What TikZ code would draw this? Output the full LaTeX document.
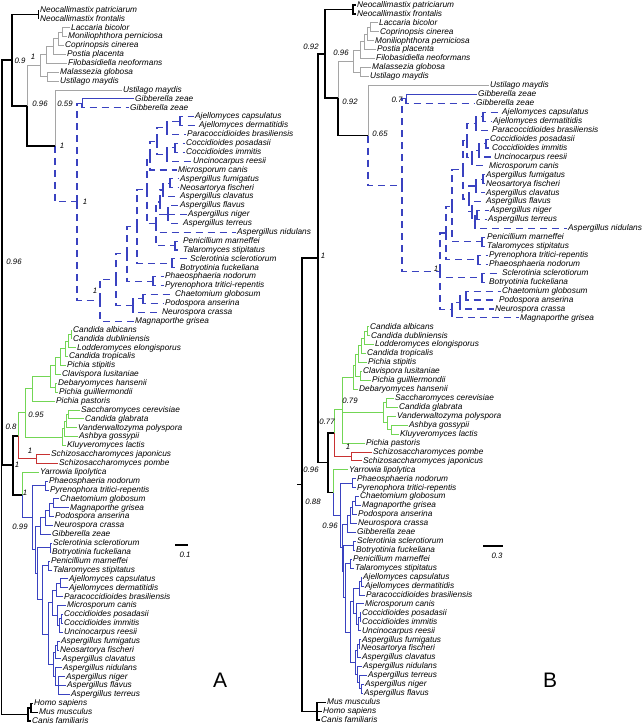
\documentclass[tikz,border=0pt]{standalone}
\usepackage{fontspec}
\newfontfamily\lff{Liberation Sans}
\definecolor{bluec}{RGB}{58,66,192}
\definecolor{grayc}{RGB}{165,165,165}
\definecolor{greenc}{RGB}{115,214,85}
\definecolor{redc}{RGB}{200,50,50}
\tikzset{
  lf/.style={anchor=west,inner sep=1.5pt,font=\lff\itshape\fontsize{8.3}{10}\selectfont,text height=1.05ex,text depth=0pt},
  bs/.style={anchor=center,inner sep=0pt,font=\lff\itshape\fontsize{7.8}{9}\selectfont},
  bk/.style={draw=black,line width=1.5pt},
  gy/.style={draw=grayc,line width=1pt},
  bl/.style={draw=bluec,line width=1pt},
  bd/.style={draw=bluec,line width=1.1pt,dash pattern=on 7pt off 5pt},
  gr/.style={draw=greenc,line width=1pt},
  rd/.style={draw=redc,line width=1pt},
}
\newcommand{\LA}[3]{\coordinate (a#1) at ({#2-1.5},{10+(#1-1)*8.89}); \node[lf] (a#1t) at (a#1) {#3};}
\newcommand{\LB}[3]{\coordinate (b#1) at ({#2-1.5},{5+(#1-1)*8.94}); \node[lf] (b#1t) at (b#1) {#3};}
\newcommand{\IA}[3]{\coordinate (#1) at (#2,{10+(#3-1)*8.89});}
\newcommand{\IB}[3]{\coordinate (#1) at (#2,{5+(#3-1)*8.94});}
\newcommand{\E}[3]{\draw[#1] (#2) |- (#3);}
\begin{document}
\begin{tikzpicture}[x=1pt,y=-1pt]
\fill[white] (0,0) rectangle (643,727);
\path[use as bounding box] (0,0) rectangle (643,727);
% ================= TREE A: leaves =================
\LA{1}{40}{Neocallimastix patriciarum}
\LA{2}{40}{Neocallimastix frontalis}
\LA{3}{71}{Laccaria bicolor}
\LA{4}{68}{Moniliophthora perniciosa}
\LA{5}{65}{Coprinopsis cinerea}
\LA{6}{67}{Postia placenta}
\LA{7}{68}{Filobasidiella neoformans}
\LA{8}{60}{Malassezia globosa}
\LA{9}{60}{Ustilago maydis}
\LA{10}{123}{Ustilago maydis}
\LA{11}{135}{Gibberella zeae}
\LA{12}{130}{Gibberella zeae}
\LA{13}{195}{Ajellomyces capsulatus}
\LA{14}{199}{Ajellomyces dermatitidis}
\LA{15}{187}{Paracoccidioides brasiliensis}
\LA{16}{186}{Coccidioides posadasii}
\LA{17}{186}{Coccidioides immitis}
\LA{18}{193}{Uncinocarpus reesii}
\LA{19}{178}{Microsporum canis}
\LA{20}{180}{Aspergillus fumigatus}
\LA{21}{180}{Neosartorya fischeri}
\LA{22}{180}{Aspergillus clavatus}
\LA{23}{180}{Aspergillus flavus}
\LA{24}{188}{Aspergillus niger}
\LA{25}{183}{Aspergillus terreus}
\LA{26}{237}{Aspergillus nidulans}
\LA{27}{183}{Penicillium marneffei}
\LA{28}{183}{Talaromyces stipitatus}
\LA{29}{190}{Sclerotinia sclerotiorum}
\LA{30}{180}{Botryotinia fuckeliana}
\LA{31}{165}{Phaeosphaeria nodorum}
\LA{32}{165}{Pyrenophora tritici-repentis}
\LA{33}{175}{Chaetomium globosum}
\LA{34}{165}{Podospora anserina}
\LA{35}{162}{Neurospora crassa}
\LA{36}{135}{Magnaporthe grisea}
\LA{37}{73}{Candida albicans}
\LA{38}{73}{Candida dubliniensis}
\LA{39}{77}{Lodderomyces elongisporus}
\LA{40}{69}{Candida tropicalis}
\LA{41}{67}{Pichia stipitis}
\LA{42}{62}{Clavispora lusitaniae}
\LA{43}{58}{Debaryomyces hansenii}
\LA{44}{59}{Pichia guilliermondii}
\LA{45}{56}{Pichia pastoris}
\LA{46}{81}{Saccharomyces cerevisiae}
\LA{47}{85}{Candida glabrata}
\LA{48}{78}{Vanderwaltozyma polyspora}
\LA{49}{79}{Ashbya gossypii}
\LA{50}{67}{Kluyveromyces lactis}
\LA{51}{51}{Schizosaccharomyces japonicus}
\LA{52}{59}{Schizosaccharomyces pombe}
\LA{53}{40}{Yarrowia lipolytica}
\LA{54}{49}{Phaeosphaeria nodorum}
\LA{55}{50}{Pyrenophora tritici-repentis}
\LA{56}{60}{Chaetomium globosum}
\LA{57}{70}{Magnaporthe grisea}
\LA{58}{55}{Podospora anserina}
\LA{59}{54}{Neurospora crassa}
\LA{60}{52}{Gibberella zeae}
\LA{61}{53}{Sclerotinia sclerotiorum}
\LA{62}{52}{Botryotinia fuckeliana}
\LA{63}{51}{Penicillium marneffei}
\LA{64}{53}{Talaromyces stipitatus}
\LA{65}{69}{Ajellomyces capsulatus}
\LA{66}{69}{Ajellomyces dermatitidis}
\LA{67}{64}{Paracoccidioides brasiliensis}
\LA{68}{67}{Microsporum canis}
\LA{69}{64}{Coccidioides posadasii}
\LA{70}{64}{Coccidioides immitis}
\LA{71}{64}{Uncinocarpus reesii}
\LA{72}{61}{Aspergillus fumigatus}
\LA{73}{60}{Neosartorya fischeri}
\LA{74}{62}{Aspergillus clavatus}
\LA{75}{63}{Aspergillus nidulans}
\LA{76}{66}{Aspergillus niger}
\LA{77}{67}{Aspergillus flavus}
\LA{78}{71}{Aspergillus terreus}
\LA{79}{34}{Homo sapiens}
\LA{80}{39}{Mus musculus}
\LA{81}{32}{Canis familiaris}
% ================= TREE A: internal =================
\IA{aNeo}{38.5}{1.5}
\IA{aLC4}{62}{3.5}
\IA{aLC3}{58}{4.25}
\IA{aLC2}{53}{5.125}
\IA{aAgar}{46}{6.06}
\IA{aUM}{47}{8.5}
\IA{aBas}{40}{7.28}
\IA{aGib}{82}{11.5}
\IA{aAj}{180}{13.5}
\IA{aAjP}{167}{14.25}
\IA{aCC}{175}{16.5}
\IA{aCCU}{167}{17.25}
\IA{aOnyB}{157}{15.75}
\IA{aOny}{150}{17.375}
\IA{aFN}{170}{20.5}
\IA{aFNC}{163}{21.25}
\IA{aFNT}{168}{24}
\IA{aAsp}{160}{22.6}
\IA{aPT}{175}{27.5}
\IA{aEur}{156}{25.06}
\IA{aDf}{147}{21.2}
\IA{aLeo}{172}{29.5}
\IA{aDe}{137}{25.35}
\IA{aPleo}{153}{31.5}
\IA{aDd}{127}{28.4}
\IA{aCP}{143}{33.5}
\IA{aSord}{133}{34.25}
\IA{aDc}{116}{31.3}
\IA{aDb}{100}{33.66}
\IA{aDa}{77}{22.58}
\IA{aAsc}{55}{16.29}
\IA{aF2}{27}{11.78}
\IA{aF1}{12}{6.64}
\IA{aCAD}{71}{37.5}
\IA{aL}{68}{38.25}
\IA{aT}{65}{39.1}
\IA{aS}{60}{40.06}
\IA{aC}{55}{41.03}
\IA{aDG}{55}{43.5}
\IA{aCTGb}{50}{42.27}
\IA{aCTG}{32}{43.6}
\IA{aSC}{68}{46.5}
\IA{aV}{66}{47.25}
\IA{aVb}{64}{48.1}
\IA{aSac}{62}{49.06}
\IA{aG}{25}{46.3}
\IA{aSch}{36}{51.5}
\IA{aQ}{18}{48.9}
\IA{aPl}{45}{54.5}
\IA{aCM}{53}{56.5}
\IA{aCMP}{49}{57.25}
\IA{aCMPN}{45}{58.1}
\IA{aSordB}{40}{59.06}
\IA{aLeoB}{50}{61.5}
\IA{aPTB}{48}{63.5}
\IA{aAjB}{60}{65.5}
\IA{aAjPB}{56}{66.25}
\IA{aCCB}{61}{69.5}
\IA{aCCUB}{59}{70.25}
\IA{aCCUMB}{57}{69.1}
\IA{aOnyC}{52}{67.7}
\IA{aFNB}{57}{72.5}
\IA{aFNCB}{55}{73.25}
\IA{aNFTB}{58}{77}
\IA{aNidB}{55}{76}
\IA{aAspB}{53}{74.6}
\IA{aEurB}{48}{71.2}
\IA{aEurC}{42}{67.3}
\IA{aLeB}{37}{64.4}
\IA{aPzB}{35}{61.7}
\IA{aPz}{32}{58.1}
\IA{aY}{22}{55.55}
\IA{aP}{13}{52.2}
\IA{aR}{2}{29.4}
\IA{aHM}{31}{79.5}
\IA{aAn}{28}{80.25}
\IA{aRoot}{1.5}{54.8}
% ---- edges A ----
\E{gy}{aF2}{aBas}\E{gy}{aBas}{aAgar}\E{gy}{aBas}{aUM}\E{gy}{aAgar}{aLC2}\E{gy}{aAgar}{a7}
\E{gy}{aLC2}{aLC3}\E{gy}{aLC2}{a6}\E{gy}{aLC3}{aLC4}\E{gy}{aLC3}{a5}\E{gy}{aLC4}{a3}\E{gy}{aLC4}{a4}
\E{gy}{aUM}{a8}\E{gy}{aUM}{a9}\E{gy}{aAsc}{a10}
\E{bd}{aAsc}{aDa}\E{bd}{aDa}{aGib}\E{bd}{aDa}{aDb}\E{bl}{aGib}{a11}\E{bd}{aGib}{a12}
\E{bd}{aDb}{aDc}\E{bd}{aDb}{a36}\E{bd}{aDc}{aDd}\E{bd}{aDc}{aSord}\E{bd}{aSord}{aCP}\E{bd}{aSord}{a35}
\E{bd}{aCP}{a33}\E{bd}{aCP}{a34}\E{bd}{aDd}{aDe}\E{bd}{aDd}{aPleo}\E{bd}{aPleo}{a31}\E{bd}{aPleo}{a32}
\E{bd}{aDe}{aDf}\E{bd}{aDe}{aLeo}\E{bd}{aLeo}{a29}\E{bd}{aLeo}{a30}\E{bd}{aDf}{aOny}\E{bd}{aDf}{aEur}
\E{bd}{aOny}{aOnyB}\E{bd}{aOny}{a19}\E{bd}{aOnyB}{aAjP}\E{bd}{aOnyB}{aCCU}\E{bd}{aAjP}{aAj}\E{bd}{aAjP}{a15}
\E{bd}{aAj}{a13}\E{bd}{aAj}{a14}\E{bd}{aCCU}{aCC}\E{bd}{aCCU}{a18}\E{bd}{aCC}{a16}\E{bd}{aCC}{a17}
\E{bd}{aEur}{aAsp}\E{bd}{aEur}{a26}\E{bd}{aEur}{aPT}\E{bd}{aPT}{a27}\E{bd}{aPT}{a28}
\E{bd}{aAsp}{aFNC}\E{bd}{aAsp}{aFNT}\E{bd}{aFNC}{aFN}\E{bd}{aFNC}{a22}\E{bd}{aFN}{a20}\E{bd}{aFN}{a21}
\E{bd}{aFNT}{a23}\E{bd}{aFNT}{a24}\E{bd}{aFNT}{a25}
\E{gr}{aQ}{aG}\E{gr}{aG}{aCTG}\E{gr}{aG}{aSac}\E{gr}{aCTG}{aCTGb}\E{gr}{aCTG}{a45}
\E{gr}{aCTGb}{aC}\E{gr}{aCTGb}{aDG}\E{gr}{aDG}{a43}\E{gr}{aDG}{a44}\E{gr}{aC}{aS}\E{gr}{aC}{a42}
\E{gr}{aS}{aT}\E{gr}{aS}{a41}\E{gr}{aT}{aL}\E{gr}{aT}{a40}\E{gr}{aL}{aCAD}\E{gr}{aL}{a39}
\E{gr}{aCAD}{a37}\E{gr}{aCAD}{a38}
\E{gr}{aSac}{aVb}\E{gr}{aSac}{a50}\E{gr}{aVb}{aV}\E{gr}{aVb}{a49}\E{gr}{aV}{aSC}\E{gr}{aV}{a48}
\E{gr}{aSC}{a46}\E{gr}{aSC}{a47}\E{gr}{aY}{a53}
\E{rd}{aQ}{aSch}\E{rd}{aSch}{a51}\E{rd}{aSch}{a52}
\E{bl}{aY}{aPz}\E{bl}{aPz}{aPl}\E{bl}{aPz}{aPzB}\E{bl}{aPl}{a54}\E{bl}{aPl}{a55}
\E{bl}{aPzB}{aSordB}\E{bl}{aPzB}{aLeB}\E{bl}{aSordB}{aCMPN}\E{bl}{aSordB}{a60}\E{bl}{aCMPN}{aCMP}\E{bl}{aCMPN}{a59}
\E{bl}{aCMP}{aCM}\E{bl}{aCMP}{a58}\E{bl}{aCM}{a56}\E{bl}{aCM}{a57}
\E{bl}{aLeB}{aLeoB}\E{bl}{aLeB}{aEurC}\E{bl}{aLeoB}{a61}\E{bl}{aLeoB}{a62}
\E{bl}{aEurC}{aPTB}\E{bl}{aEurC}{aEurB}\E{bl}{aPTB}{a63}\E{bl}{aPTB}{a64}
\E{bl}{aEurB}{aOnyC}\E{bl}{aEurB}{aAspB}
\E{bl}{aOnyC}{aAjPB}\E{bl}{aOnyC}{aCCUMB}\E{bl}{aAjPB}{aAjB}\E{bl}{aAjPB}{a67}\E{bl}{aAjB}{a65}\E{bl}{aAjB}{a66}
\E{bl}{aCCUMB}{a68}\E{bl}{aCCUMB}{aCCUB}\E{bl}{aCCUB}{aCCB}\E{bl}{aCCUB}{a71}\E{bl}{aCCB}{a69}\E{bl}{aCCB}{a70}
\E{bl}{aAspB}{aFNCB}\E{bl}{aAspB}{aNidB}\E{bl}{aFNCB}{aFNB}\E{bl}{aFNCB}{a74}\E{bl}{aFNB}{a72}\E{bl}{aFNB}{a73}
\E{bl}{aNidB}{a75}\E{bl}{aNidB}{aNFTB}\E{bl}{aNFTB}{a76}\E{bl}{aNFTB}{a77}\E{bl}{aNFTB}{a78}
\E{bk}{aRoot}{aR}\E{bk}{aRoot}{aAn}\E{bk}{aR}{aF1}\E{bk}{aR}{aP}\E{bk}{aF1}{aNeo}\E{bk}{aF1}{aF2}
\E{bk}{aNeo}{a1}\E{bk}{aNeo}{a2}\E{bk}{aF2}{aAsc}\E{bk}{aP}{aQ}\E{bk}{aP}{aY}
\E{bk}{aAn}{aHM}\E{bk}{aAn}{a81}\E{bk}{aHM}{a79}\E{bk}{aHM}{a80}
% labels A
\node[bs] (la1) at (20,61) {0.9};
\node[bs] (la2) at (33,57) {1};
\node[bs] (la3) at (40,104) {0.96};
\node[bs] (la4) at (65,104) {0.59};
\node[bs] (la5) at (62,146) {1};
\node[bs] (la6) at (85,202) {1};
\node[bs] (la7) at (14,262) {0.96};
\node[bs] (la8) at (95,291) {1};
\node[bs] (la9) at (36,415) {0.95};
\node[bs] (la10) at (11,427) {0.8};
\node[bs] (la11) at (30,451) {1};
\node[bs] (la12) at (17,465) {1};
\node[bs] (la13) at (25,493) {1};
\node[bs] (la14) at (20,527) {0.99};
\coordinate (sa1) at (175,545); \coordinate (sa2) at (188,545);
\draw[black,line width=1.3pt] (sa1) -- (sa2);
\node[bs] (sat) at (185,555) {0.1};
\node[font=\lff\fontsize{21}{24}\selectfont] (pA) at (220,680) {A};
% ================= TREE B: leaves =================
\LB{1}{357}{Neocallimastix patriciarum}
\LB{2}{357}{Neocallimastix frontalis}
\LB{3}{379}{Laccaria bicolor}
\LB{4}{380}{Coprinopsis cinerea}
\LB{5}{375}{Moniliophthora perniciosa}
\LB{6}{377}{Postia placenta}
\LB{7}{376}{Filobasidiella neoformans}
\LB{8}{372}{Malassezia globosa}
\LB{9}{370}{Ustilago maydis}
\LB{10}{490}{Ustilago maydis}
\LB{11}{478}{Gibberella zeae}
\LB{12}{476}{Gibberella zeae}
\LB{13}{502}{Ajellomyces capsulatus}
\LB{14}{493}{Ajellomyces dermatitidis}
\LB{15}{492}{Paracoccidioides brasiliensis}
\LB{16}{490}{Coccidioides posadasii}
\LB{17}{492}{Coccidioides immitis}
\LB{18}{494}{Uncinocarpus reesii}
\LB{19}{489}{Microsporum canis}
\LB{20}{486}{Aspergillus fumigatus}
\LB{21}{486}{Neosartorya fischeri}
\LB{22}{486}{Aspergillus clavatus}
\LB{23}{486}{Aspergillus flavus}
\LB{24}{490}{Aspergillus niger}
\LB{25}{488}{Aspergillus terreus}
\LB{26}{568}{Aspergillus nidulans}
\LB{27}{487}{Penicillium marneffei}
\LB{28}{487}{Talaromyces stipitatus}
\LB{29}{489}{Pyrenophora tritici-repentis}
\LB{30}{489}{Phaeosphaeria nodorum}
\LB{31}{502}{Sclerotinia sclerotiorum}
\LB{32}{489}{Botryotinia fuckeliana}
\LB{33}{502}{Chaetomium globosum}
\LB{34}{499}{Podospora anserina}
\LB{35}{495}{Neurospora crassa}
\LB{36}{520}{Magnaporthe grisea}
\LB{37}{370}{Candida albicans}
\LB{38}{371}{Candida dubliniensis}
\LB{39}{375}{Lodderomyces elongisporus}
\LB{40}{367}{Candida tropicalis}
\LB{41}{368}{Pichia stipitis}
\LB{42}{363}{Clavispora lusitaniae}
\LB{43}{372}{Pichia guilliermondii}
\LB{44}{359}{Debaryomyces hansenii}
\LB{45}{395}{Saccharomyces cerevisiae}
\LB{46}{399}{Candida glabrata}
\LB{47}{397}{Vanderwaltozyma polyspora}
\LB{48}{409}{Ashbya gossypii}
\LB{49}{400}{Kluyveromyces lactis}
\LB{50}{366}{Pichia pastoris}
\LB{51}{373}{Schizosaccharomyces pombe}
\LB{52}{363}{Schizosaccharomyces japonicus}
\LB{53}{349}{Yarrowia lipolytica}
\LB{54}{357}{Phaeosphaeria nodorum}
\LB{55}{357}{Pyrenophora tritici-repentis}
\LB{56}{360}{Chaetomium globosum}
\LB{57}{362}{Magnaporthe grisea}
\LB{58}{358}{Podospora anserina}
\LB{59}{358}{Neurospora crassa}
\LB{60}{357}{Gibberella zeae}
\LB{61}{357}{Sclerotinia sclerotiorum}
\LB{62}{356}{Botryotinia fuckeliana}
\LB{63}{353}{Penicillium marneffei}
\LB{64}{355}{Talaromyces stipitatus}
\LB{65}{363}{Ajellomyces capsulatus}
\LB{66}{365}{Ajellomyces dermatitidis}
\LB{67}{366}{Paracoccidioides brasiliensis}
\LB{68}{365}{Microsporum canis}
\LB{69}{362}{Coccidioides posadasii}
\LB{70}{362}{Coccidioides immitis}
\LB{71}{362}{Uncinocarpus reesii}
\LB{72}{362}{Aspergillus fumigatus}
\LB{73}{361}{Neosartorya fischeri}
\LB{74}{362}{Aspergillus clavatus}
\LB{75}{363}{Aspergillus nidulans}
\LB{76}{368}{Aspergillus terreus}
\LB{77}{365}{Aspergillus niger}
\LB{78}{364}{Aspergillus flavus}
\LB{79}{327}{Mus musculus}
\LB{80}{323}{Homo sapiens}
\LB{81}{321}{Canis familiaris}
% ================= TREE B: internal =================
\IB{bNeo}{353}{1.5}
\IB{bLC}{370}{3.5}
\IB{bLCM}{367}{4.25}
\IB{bLCMP}{364}{5.125}
\IB{bAg}{360}{6.06}
\IB{bUM}{360}{8.5}
\IB{bBas}{353}{7.28}
\IB{bGib}{406}{11.5}
\IB{bAj}{483}{13.5}
\IB{bAjP}{476}{14.25}
\IB{bCC}{486}{16.5}
\IB{bCCU}{479}{17.25}
\IB{bCCUM}{472}{18.1}
\IB{bOny}{467}{16.2}
\IB{bFN}{483}{20.5}
\IB{bFNC}{476}{21.25}
\IB{bNT}{477}{24.5}
\IB{bNid}{475}{25.25}
\IB{bFLNT}{472}{24.1}
\IB{bAspA}{469}{22.7}
\IB{bAO}{463}{19.45}
\IB{bPT}{482}{27.5}
\IB{bEur}{452}{23.5}
\IB{bPleo}{478}{29.5}
\IB{bUp}{446}{26.5}
\IB{bLeo}{482}{31.5}
\IB{bCP}{466}{33.5}
\IB{bCPN}{460}{34.25}
\IB{bSord}{452}{35.1}
\IB{bDb}{440}{30.8}
\IB{bDa}{402}{21.15}
\IB{bAsc}{368}{15.6}
\IB{bF2}{338}{11.4}
\IB{bF1}{325}{6.46}
\IB{bCAD}{367}{37.5}
\IB{bCADL}{364}{38.25}
\IB{bCT}{361}{39.1}
\IB{bCTS}{358}{40.06}
\IB{bCL}{360}{42.5}
\IB{bCTGb}{355}{41.3}
\IB{bCTG}{353}{42.65}
\IB{bSCG}{386}{45.5}
\IB{bAK}{391}{48.5}
\IB{bVAK}{387}{47.75}
\IB{bSac}{383}{46.6}
\IB{bG}{342}{46.3}
\IB{bSch}{351}{51.5}
\IB{bQ}{334}{48.9}
\IB{bPl}{352}{54.5}
\IB{bCM}{355}{56.5}
\IB{bCMP}{352}{57.25}
\IB{bCMPN}{350}{58.1}
\IB{bSordB}{347}{59.06}
\IB{bLeoB}{353}{61.5}
\IB{bPTB}{350}{63.5}
\IB{bAjB}{361}{65.5}
\IB{bAjPB}{359}{66.25}
\IB{bCCB}{360}{69.5}
\IB{bCCUB}{358}{70.25}
\IB{bCCUMB}{356}{69.1}
\IB{bOnyC}{353}{67.7}
\IB{bFNB}{359}{72.5}
\IB{bFNCB}{357}{73.25}
\IB{bNFB}{361}{77.5}
\IB{bTNF}{359}{76.75}
\IB{bNTNF}{357}{75.9}
\IB{bAspB}{355}{74.6}
\IB{bEurB}{350}{71.2}
\IB{bEurC}{345}{67.3}
\IB{bLeB}{343}{64.4}
\IB{bPzB}{342}{61.7}
\IB{bPz}{340}{58.1}
\IB{bY}{333}{55.55}
\IB{bP}{328}{52.2}
\IB{bR}{318}{29.3}
\IB{bAn}{317}{80}
\IB{bRoot}{302}{54.65}
\IB{bStem}{297}{54.65}
% ---- edges B ----
\E{gy}{bF2}{bBas}\E{gy}{bBas}{bAg}\E{gy}{bBas}{bUM}\E{gy}{bAg}{bLCMP}\E{gy}{bAg}{b7}
\E{gy}{bLCMP}{bLCM}\E{gy}{bLCMP}{b6}\E{gy}{bLCM}{bLC}\E{gy}{bLCM}{b5}\E{gy}{bLC}{b3}\E{gy}{bLC}{b4}
\E{gy}{bUM}{b8}\E{gy}{bUM}{b9}\E{gy}{bAsc}{b10}
\E{bd}{bAsc}{bDa}\E{bd}{bDa}{bGib}\E{bd}{bDa}{bDb}\E{bl}{bGib}{b11}\E{bd}{bGib}{b12}
\E{bd}{bDb}{bUp}\E{bd}{bDb}{bLeo}\E{bd}{bDb}{bSord}
\E{bd}{bUp}{bEur}\E{bd}{bUp}{bPleo}\E{bd}{bPleo}{b29}\E{bd}{bPleo}{b30}
\E{bd}{bEur}{bAO}\E{bd}{bEur}{bPT}\E{bd}{bPT}{b27}\E{bd}{bPT}{b28}
\E{bd}{bAO}{bOny}\E{bd}{bAO}{bAspA}
\E{bd}{bOny}{bAjP}\E{bd}{bOny}{bCCUM}\E{bd}{bAjP}{bAj}\E{bd}{bAjP}{b15}\E{bd}{bAj}{b13}\E{bd}{bAj}{b14}
\E{bd}{bCCUM}{bCCU}\E{bd}{bCCUM}{b19}\E{bd}{bCCU}{bCC}\E{bd}{bCCU}{b18}\E{bd}{bCC}{b16}\E{bd}{bCC}{b17}
\E{bd}{bAspA}{bFNC}\E{bd}{bAspA}{bFLNT}\E{bd}{bFNC}{bFN}\E{bd}{bFNC}{b22}\E{bd}{bFN}{b20}\E{bd}{bFN}{b21}
\E{bd}{bFLNT}{b23}\E{bd}{bFLNT}{bNid}\E{bd}{bNid}{bNT}\E{bd}{bNid}{b26}\E{bd}{bNT}{b24}\E{bd}{bNT}{b25}
\E{bd}{bLeo}{b31}\E{bd}{bLeo}{b32}
\E{bd}{bSord}{bCPN}\E{bd}{bSord}{b36}\E{bd}{bCPN}{bCP}\E{bd}{bCPN}{b35}\E{bd}{bCP}{b33}\E{bd}{bCP}{b34}
\E{gr}{bQ}{bG}\E{gr}{bG}{bCTG}\E{gr}{bG}{bSac}\E{gr}{bG}{b50}
\E{gr}{bCTG}{bCTGb}\E{gr}{bCTG}{b44}\E{gr}{bCTGb}{bCTS}\E{gr}{bCTGb}{bCL}\E{gr}{bCL}{b42}\E{gr}{bCL}{b43}
\E{gr}{bCTS}{bCT}\E{gr}{bCTS}{b41}\E{gr}{bCT}{bCADL}\E{gr}{bCT}{b40}\E{gr}{bCADL}{bCAD}\E{gr}{bCADL}{b39}
\E{gr}{bCAD}{b37}\E{gr}{bCAD}{b38}
\E{gr}{bSac}{bSCG}\E{gr}{bSac}{bVAK}\E{gr}{bSCG}{b45}\E{gr}{bSCG}{b46}\E{gr}{bVAK}{b47}\E{gr}{bVAK}{bAK}
\E{gr}{bAK}{b48}\E{gr}{bAK}{b49}\E{gr}{bY}{b53}
\E{rd}{bQ}{bSch}\E{rd}{bSch}{b51}\E{rd}{bSch}{b52}
\E{bl}{bY}{bPz}\E{bl}{bPz}{bPl}\E{bl}{bPz}{bPzB}\E{bl}{bPl}{b54}\E{bl}{bPl}{b55}
\E{bl}{bPzB}{bSordB}\E{bl}{bPzB}{bLeB}\E{bl}{bSordB}{bCMPN}\E{bl}{bSordB}{b60}\E{bl}{bCMPN}{bCMP}\E{bl}{bCMPN}{b59}
\E{bl}{bCMP}{bCM}\E{bl}{bCMP}{b58}\E{bl}{bCM}{b56}\E{bl}{bCM}{b57}
\E{bl}{bLeB}{bLeoB}\E{bl}{bLeB}{bEurC}\E{bl}{bLeoB}{b61}\E{bl}{bLeoB}{b62}
\E{bl}{bEurC}{bPTB}\E{bl}{bEurC}{bEurB}\E{bl}{bPTB}{b63}\E{bl}{bPTB}{b64}
\E{bl}{bEurB}{bOnyC}\E{bl}{bEurB}{bAspB}
\E{bl}{bOnyC}{bAjPB}\E{bl}{bOnyC}{bCCUMB}\E{bl}{bAjPB}{bAjB}\E{bl}{bAjPB}{b67}\E{bl}{bAjB}{b65}\E{bl}{bAjB}{b66}
\E{bl}{bCCUMB}{b68}\E{bl}{bCCUMB}{bCCUB}\E{bl}{bCCUB}{bCCB}\E{bl}{bCCUB}{b71}\E{bl}{bCCB}{b69}\E{bl}{bCCB}{b70}
\E{bl}{bAspB}{bFNCB}\E{bl}{bAspB}{bNTNF}\E{bl}{bFNCB}{bFNB}\E{bl}{bFNCB}{b74}\E{bl}{bFNB}{b72}\E{bl}{bFNB}{b73}
\E{bl}{bNTNF}{b75}\E{bl}{bNTNF}{bTNF}\E{bl}{bTNF}{b76}\E{bl}{bTNF}{bNFB}\E{bl}{bNFB}{b77}\E{bl}{bNFB}{b78}
\E{bk}{bRoot}{bR}\E{bk}{bRoot}{bAn}\E{bk}{bR}{bF1}\E{bk}{bR}{bP}\E{bk}{bF1}{bNeo}\E{bk}{bF1}{bF2}
\E{bk}{bNeo}{b1}\E{bk}{bNeo}{b2}\E{bk}{bF2}{bAsc}\E{bk}{bP}{bQ}\E{bk}{bP}{bY}
\E{bk}{bAn}{b79}\E{bk}{bAn}{b80}\E{bk}{bAn}{b81}
\draw[bk] (bStem) -- (bRoot);
% labels B
\node[bs] (lb1) at (311,47) {0.92};
\node[bs] (lb2) at (341,53) {0.96};
\node[bs] (lb3) at (350,102) {0.92};
\node[bs] (lb4) at (397,100) {0.7};
\node[bs] (lb5) at (380,134) {0.65};
\node[bs] (lb6) at (323,256) {1};
\node[bs] (lb7) at (436,269) {1};
\node[bs] (lb8) at (350,401) {0.79};
\node[bs] (lb9) at (327,422) {0.77};
\node[bs] (lb10) at (348,447) {1};
\node[bs] (lb11) at (311,470) {0.96};
\node[bs] (lb12) at (313,502) {0.88};
\node[bs] (lb13) at (330,526) {0.96};
\coordinate (sb1) at (483,546); \coordinate (sb2) at (503,546);
\draw[black,line width=1.3pt] (sb1) -- (sb2);
\node[bs] (sbt) at (497,556) {0.3};
\node[font=\lff\fontsize{21}{24}\selectfont] (pB) at (550,680) {B};
\end{tikzpicture}
\end{document}
